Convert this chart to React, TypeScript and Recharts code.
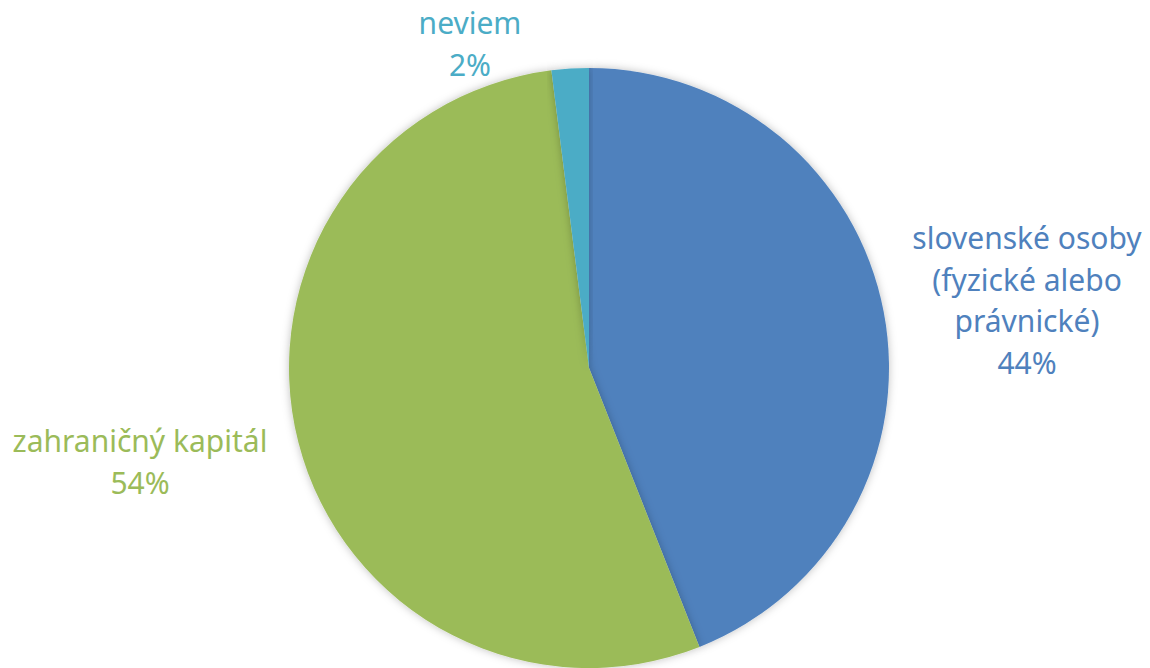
import React from 'react'
import { PieChart, Pie, Cell } from 'recharts'

const names = ['slovenské osoby (fyzické alebo právnické)', 'zahraničný kapitál', 'neviem']
const values = [44, 54, 2]
const colors = ['#4F81BD', '#9BBB59', '#4BACC6']

// label text lines per slice, and where each label block sits relative to the pie centre
const labelLines = [
  ['slovenské osoby', '(fyzické alebo', 'právnické)'],
  ['zahraničný kapitál'],
  ['neviem'],
]
const labelOffsets = [
  { dx: 438, dy: -131 },
  { dx: -449, dy: 72 },
  { dx: -119, dy: -346 },
]

const data = names.map((n, i) => ({ name: n, value: values[i] }))
const total = values.reduce((a, b) => a + b, 0)

const FONT = '"Noto Sans", sans-serif'
const LINE_H = 41.5

const renderLabel = (p: any) => {
  const i = p.index
  const off = labelOffsets[i]
  const x = p.cx + off.dx
  const y0 = p.cy + off.dy
  const lines = [...labelLines[i], `${Math.round((p.value / total) * 100)}%`]
  return (
    <text x={x} y={y0} fill={colors[i]} textAnchor="middle" dominantBaseline="central" fontFamily={FONT} fontSize={30}>
      {lines.map((l, k) => (
        <tspan key={k} x={x} y={y0 + k * LINE_H}>{l}</tspan>
      ))}
    </text>
  )
}

export default function App() {
  return (
    <div style={{ position: 'absolute', left: 0, top: 0, width: 1150, height: 668, background: '#fff' }}>
      <PieChart width={1150} height={668} margin={{ top: 0, right: 0, bottom: 0, left: 0 }}>
        <defs>
          <filter id="pieShadow" x="-10%" y="-10%" width="120%" height="120%">
            <feDropShadow dx="0" dy="0" stdDeviation="4" floodColor="#000" floodOpacity="0.25" />
          </filter>
        </defs>
        <Pie
          data={data}
          dataKey="value"
          nameKey="name"
          cx={589}
          cy={368}
          outerRadius={300}
          startAngle={90}
          endAngle={-270}
          stroke="none"
          label={renderLabel}
          labelLine={false}
          isAnimationActive={false}
          style={{ filter: 'url(#pieShadow)' }}
        >
          {data.map((d, i) => <Cell key={d.name} fill={colors[i]} />)}
        </Pie>
      </PieChart>
    </div>
  )
}
